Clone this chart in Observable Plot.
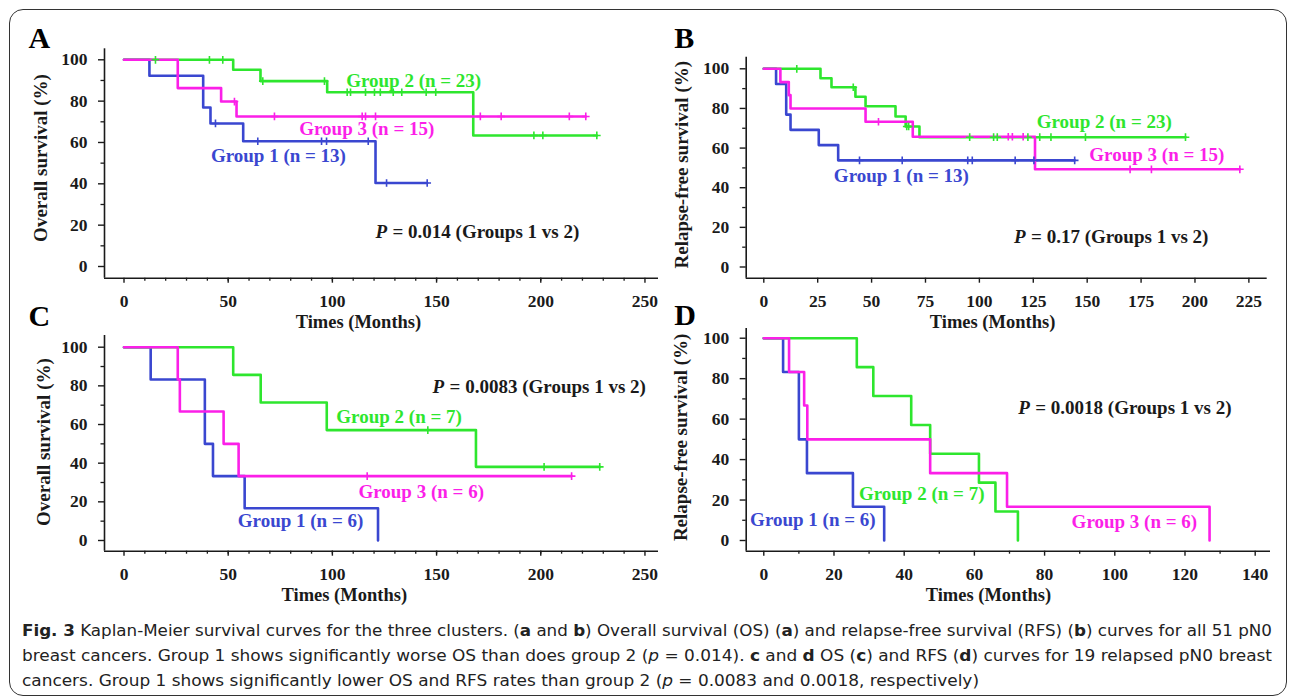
<!DOCTYPE html>
<html><head><meta charset="utf-8">
<script src="https://cdn.jsdelivr.net/npm/d3@7"></script>
<script src="https://cdn.jsdelivr.net/npm/@observablehq/plot@0.6"></script>
<style>
body{margin:0;background:#fff;}
#fig{position:relative;width:1295px;height:699px;overflow:hidden;background:#fff;}
#border{position:absolute;left:9px;top:9px;width:1278px;height:687px;border:1.5px solid #333;border-radius:14px;box-sizing:border-box;}
</style></head><body>
<div id="fig"><div id="border"></div></div>
<script>
// ---------------- data ----------------
const groupNames = ["Group 1", "Group 2", "Group 3"];
const nAll = [13, 23, 15];
const nRelapsed = [6, 7, 6];
const pValues = ["0.014", "0.17", "0.0083", "0.0018"];
const xTicksAC = [0, 50, 100, 150, 200, 250];
const xTicksB = [0, 25, 50, 75, 100, 125, 150, 175, 200, 225];
const xTicksD = [0, 20, 40, 60, 80, 100, 120, 140];
const yTicks = [0, 20, 40, 60, 80, 100];
const xTitle = "Times (Months)";
const yTitleOS = "Overall survival (%)";
const yTitleRFS = "Relapse-free survival (%)";

// Panel A: OS, all pN0
const aTime1 = [0, 12.2, 38, 41.5, 57.2, 120.7, 145.5];
const aSurv1 = [100, 92.3, 76.9, 69.2, 60.6, 40.4, 40.4];
const aCens1 = [43.9, 64.2, 94.8, 97.2, 117.2, 126, 145.5];
const aTime2 = [0, 52.4, 65.5, 97.5, 167.6, 226.9];
const aSurv2 = [100, 95.2, 89.7, 84.3, 63.4, 63.4];
const aCens2 = [15.1, 41, 47.4, 66.6, 96.2, 107.1, 108.7, 115.9, 120.2, 123, 129.2, 133.3, 145, 149.6, 196.7, 201, 226.9];
const aTime3 = [0, 25.8, 46.6, 54, 221.6];
const aSurv3 = [100, 86.3, 79.8, 72.6, 72.6];
const aCens3 = [53, 72.2, 114.3, 115.9, 120.7, 171, 181, 213.7, 221.6];

// Panel B: RFS, all pN0
const bTime1 = [0, 5.7, 10.4, 12.4, 25.5, 34.5, 144.2];
const bSurv1 = [100, 92.3, 76.9, 69.2, 61.5, 53.8, 53.8];
const bCens1 = [44.4, 64.2, 94.6, 96.7, 116.6, 125.3, 144.2];
const bTime2 = [0, 26.3, 31.4, 42.5, 47.2, 61.1, 65.8, 72.2, 195.6];
const bSurv2 = [100, 95.2, 90.7, 85.9, 81.1, 75.9, 70.9, 65.5, 65.5];
const bCens2 = [15.3, 41.5, 66.3, 67.2, 95.5, 106.6, 108.3, 122.5, 128, 133.2, 149.2, 195.6];
const bTime3 = [0, 7.7, 11.6, 12.4, 47.2, 69.1, 125.8, 220.8];
const bSurv3 = [100, 93.3, 86.7, 80, 73.3, 65.7, 49.3, 49.3];
const bCens3 = [53.2, 113.4, 115.3, 120.3, 169.9, 179.8, 220.8];

// Panel C: OS, relapsed pN0
const cTime1 = [0, 12.8, 38.8, 42.7, 57.9, 121.9];
const cSurv1 = [100, 83.3, 50, 33.3, 16.7, 0];
const cCens1 = [];
const cTime2 = [0, 52.4, 65.6, 97.3, 168.9, 228.3];
const cSurv2 = [100, 85.7, 71.4, 57.1, 38.1, 38.1];
const cCens2 = [145.8, 201.6, 228.3];
const cTime3 = [0, 25.8, 26.8, 47.8, 55, 214.8];
const cSurv3 = [100, 83.3, 66.7, 50, 33.3, 33.3];
const cCens3 = [116.7, 214.8];

// Panel D: RFS, relapsed pN0
const dTime1 = [0, 5.5, 10, 12.3, 25.4, 34.3];
const dSurv1 = [100, 83.3, 50, 33.3, 16.7, 0];
const dCens1 = [];
const dTime2 = [0, 26.5, 31.2, 42, 47.4, 61.3, 66, 72.4];
const dSurv2 = [100, 85.7, 71.4, 57.1, 42.9, 28.6, 14.3, 0];
const dCens2 = [];
const dTime3 = [0, 7.2, 11.5, 12.4, 47.4, 69.3, 127];
const dSurv3 = [100, 83.3, 66.7, 50, 33.3, 16.7, 0];
const dCens3 = [];

// ---------------- styling ----------------
const serif = "'Liberation Serif', 'Times New Roman', serif";
const ink = "#1a1a1a";
const colors = ["#3a47d0", "#2ee62e", "#fb1fe8"];

function survAt(times, surv, c) {
  let v = surv[0];
  for (let i = 0; i < times.length; i++) if (times[i] <= c) v = surv[i];
  return v;
}

function makePanel(cfg) {
  const {box, frame, xDomain, yDomain, xMajor, xMinor, series, labels, p, xLab, yLab, letter} = cfg;
  const ml = frame.x0 - box.L, mr = box.L + box.W - frame.x1;
  const mt = frame.y0 - box.T, mb = box.T + box.H - frame.y1;
  const txt = {fontFamily: serif, fontWeight: "bold"};
  const blank = () => "";
  const marks = [
    Plot.ruleY([yDomain[0]], {stroke: ink, strokeWidth: 1.6}),
    Plot.ruleX([xDomain[0]], {stroke: ink, strokeWidth: 1.6}),
    Plot.axisX({ticks: xMajor, tickSize: 5, tickFormat: blank, stroke: ink, strokeWidth: 1.4, label: null}),
    Plot.axisY({ticks: yTicks, tickSize: 6, tickFormat: blank, stroke: ink, strokeWidth: 1.4, label: null}),
    Plot.axisY({ticks: [10, 30, 50, 70, 90], tickSize: 3.5, tickFormat: blank, stroke: ink, strokeWidth: 1.3, label: null}),
    // tick labels through the scales
    Plot.text(xMajor, {x: d => d, frameAnchor: "bottom", dy: 23.5, text: d => String(d), textAnchor: "middle", lineAnchor: "middle", fill: ink, fontSize: 17.5, ...txt}),
    Plot.text(yTicks, {y: d => d, frameAnchor: "left", dx: -17, text: d => String(d), textAnchor: "end", lineAnchor: "middle", fill: ink, fontSize: 17.5, ...txt})
  ];
  if (xMinor.length) marks.push(Plot.axisX({ticks: xMinor, tickSize: 3, tickFormat: blank, stroke: ink, strokeWidth: 1.3, label: null}));
  series.forEach((s, g) => {
    const rows = s.t.map((t, i) => ({t, s: s.s[i]}));
    marks.push(Plot.line(rows, {x: "t", y: "s", stroke: colors[g], strokeWidth: 2.6, curve: "step-after"}));
  });
  series.forEach((s, g) => {
    const cens = s.c.map(c => ({t: c, s: survAt(s.t, s.s, c)}));
    marks.push(Plot.dot(cens, {x: "t", y: "s", symbol: "plus", r: 2.6, stroke: colors[g], strokeWidth: 1.6}));
  });
  labels.forEach((l, g) => {
    marks.push(Plot.text([l.text], {x: l.x, y: l.y, text: d => d, textAnchor: "start", lineAnchor: "middle", fill: colors[g], fontSize: 19, ...txt}));
  });
  marks.push(Plot.text(["P"], {x: p.x, y: p.y, text: d => d, textAnchor: "start", lineAnchor: "middle", fill: ink, fontSize: 19, fontStyle: "italic", ...txt}));
  marks.push(Plot.text([`= ${p.value} (Groups 1 vs 2)`], {x: p.x, y: p.y, dx: 17, text: d => d, textAnchor: "start", lineAnchor: "middle", fill: ink, fontSize: 19, ...txt}));
  marks.push(Plot.text([xTitle], {x: xLab.x, frameAnchor: "bottom", dy: xLab.dy, text: d => d, textAnchor: "middle", lineAnchor: "middle", fill: ink, fontSize: 18.5, ...txt}));
  marks.push(Plot.text([yLab.text], {x: yLab.x, y: yLab.y, rotate: -90, text: d => d, textAnchor: "middle", lineAnchor: "middle", fill: ink, fontSize: 19, ...txt}));
  marks.push(Plot.text([letter.text], {frameAnchor: "top-left", dx: letter.dx, dy: letter.dy, text: d => d, textAnchor: "start", lineAnchor: "middle", fill: "#000", fontSize: 30, ...txt}));

  const svg = Plot.plot({
    width: box.W, height: box.H,
    marginLeft: ml, marginRight: mr, marginTop: mt, marginBottom: mb,
    x: {domain: xDomain, label: null},
    y: {domain: yDomain, label: null},
    style: {background: "transparent", overflow: "visible", color: ink, fontFamily: serif},
    marks
  });
  svg.style.position = "absolute";
  svg.style.left = box.L + "px";
  svg.style.top = box.T + "px";
  svg.style.maxWidth = "none";
  document.getElementById("fig").appendChild(svg);
}

const lab = (g, n) => `${groupNames[g]} (n = ${n})`;

makePanel({
  box: {L: 12, T: 16, W: 652, H: 322}, frame: {x0: 104, x1: 658, y0: 48.3, y1: 277.7},
  xDomain: [-9.36, 256.5], yDomain: [-5.66, 105.32], xMajor: xTicksAC, xMinor: d3.range(10, 250, 10),
  series: [{t: aTime1, s: aSurv1, c: aCens1}, {t: aTime2, s: aSurv2, c: aCens2}, {t: aTime3, s: aSurv3, c: aCens3}],
  labels: [{text: lab(0, nAll[0]), x: 41.7, y: 53.7}, {text: lab(1, nAll[1]), x: 106.6, y: 89.8}, {text: lab(2, nAll[2]), x: 84.1, y: 66.8}],
  p: {value: pValues[0], x: 120.7, y: 16.6},
  xLab: {x: 112.5, dy: 43.5}, yLab: {text: yTitleOS, x: -40.1, y: 52.5}, letter: {text: "A", dx: -76, dy: -10}
});
makePanel({
  box: {L: 660, T: 16, W: 625, H: 322}, frame: {x0: 745.7, x1: 1266.7, y0: 56.7, y1: 277.7},
  xDomain: [-8.16, 233.5], yDomain: [-5.65, 105.85], xMajor: xTicksB, xMinor: [],
  series: [{t: bTime1, s: bSurv1, c: bCens1}, {t: bTime2, s: bSurv2, c: bCens2}, {t: bTime3, s: bSurv3, c: bCens3}],
  labels: [{text: lab(0, nAll[0]), x: 32.5, y: 46.2}, {text: lab(1, nAll[1]), x: 126.6, y: 73.1}, {text: lab(2, nAll[2]), x: 151, y: 56.6}],
  p: {value: pValues[1], x: 116.1, y: 15},
  xLab: {x: 106.1, dy: 43.5}, yLab: {text: yTitleRFS, x: -38.1, y: 51.6}, letter: {text: "B", dx: -72, dy: -19}
});
makePanel({
  box: {L: 12, T: 296, W: 652, H: 312}, frame: {x0: 104, x1: 658, y0: 335, y1: 550.7},
  xDomain: [-9.36, 256.5], yDomain: [-5.54, 106.05], xMajor: xTicksAC, xMinor: d3.range(10, 250, 10),
  series: [{t: cTime1, s: cSurv1, c: cCens1}, {t: cTime2, s: cSurv2, c: cCens2}, {t: cTime3, s: cSurv3, c: cCens3}],
  labels: [{text: lab(0, nRelapsed[0]), x: 54.6, y: 10}, {text: lab(1, nRelapsed[1]), x: 101.9, y: 63.8}, {text: lab(2, nRelapsed[2]), x: 112.5, y: 25}],
  p: {value: pValues[2], x: 148.1, y: 79.7},
  xLab: {x: 105.7, dy: 43.5}, yLab: {text: yTitleOS, x: -38.3, y: 50.9}, letter: {text: "C", dx: -76, dy: -19}
});
makePanel({
  box: {L: 660, T: 296, W: 625, H: 312}, frame: {x0: 745.7, x1: 1270, y0: 328, y1: 550.7},
  xDomain: [-5.01, 144.36], yDomain: [-5.29, 104.8], xMajor: xTicksD, xMinor: d3.range(10, 140, 20),
  series: [{t: dTime1, s: dSurv1, c: dCens1}, {t: dTime2, s: dSurv2, c: dCens2}, {t: dTime3, s: dSurv3, c: dCens3}],
  labels: [{text: lab(0, nRelapsed[0]), x: -3.9, y: 10.2}, {text: lab(1, nRelapsed[1]), x: 27.1, y: 23.1}, {text: lab(2, nRelapsed[2]), x: 87.7, y: 9}],
  p: {value: pValues[3], x: 72.5, y: 65.6},
  xLab: {x: 64, dy: 44}, yLab: {text: yTitleRFS, x: -23.6, y: 51}, letter: {text: "D", dx: -72, dy: -13}
});

// ---------------- caption ----------------
const capFont = "'Liberation Sans Narrow', 'DejaVu Sans Condensed', 'Roboto Condensed', 'Noto Sans', sans-serif";
const cap = document.createElementNS("http://www.w3.org/2000/svg", "svg");
cap.setAttribute("width", 1295);
cap.setAttribute("height", 85);
cap.innerHTML = `
<g font-family="${capFont}" font-size="16" fill="#222" style="white-space:pre">
<text x="22" y="26" textLength="1250" lengthAdjust="spacingAndGlyphs"><tspan font-weight="bold">Fig. 3</tspan> Kaplan-Meier survival curves for the three clusters. (<tspan font-weight="bold">a</tspan> and <tspan font-weight="bold">b</tspan>) Overall survival (OS) (<tspan font-weight="bold">a</tspan>) and relapse-free survival (RFS) (<tspan font-weight="bold">b</tspan>) curves for all 51 pN0</text>
<text x="22" y="51" textLength="1250" lengthAdjust="spacingAndGlyphs">breast cancers. Group 1 shows significantly worse OS than does group 2 (<tspan font-style="italic">p</tspan> = 0.014). <tspan font-weight="bold">c</tspan> and <tspan font-weight="bold">d</tspan> OS (<tspan font-weight="bold">c</tspan>) and RFS (<tspan font-weight="bold">d</tspan>) curves for 19 relapsed pN0 breast</text>
<text x="22" y="76" textLength="957" lengthAdjust="spacingAndGlyphs">cancers. Group 1 shows significantly lower OS and RFS rates than group 2 (<tspan font-style="italic">p</tspan> = 0.0083 and 0.0018, respectively)</text>
</g>`;
cap.style.position = "absolute";
cap.style.left = "0px";
cap.style.top = "610px";
document.getElementById("fig").appendChild(cap);
</script>
</body></html>
